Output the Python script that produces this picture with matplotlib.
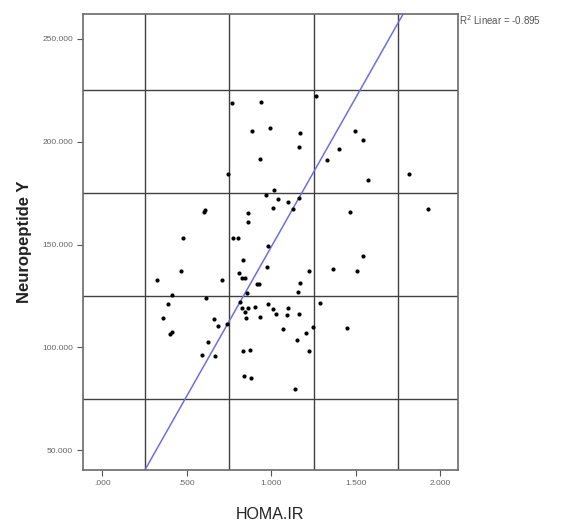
import numpy as np
import matplotlib
matplotlib.use('Agg')
import matplotlib.pyplot as plt

plt.rcParams['font.family'] = ['Liberation Sans', 'DejaVu Sans']

# HOMA.IR vs Neuropeptide Y
homa_ir = [0.765, 0.938, 0.885, 0.992, 0.933, 0.743, 0.968, 1.018, 1.037, 1.098,
           1.011, 0.609, 0.603, 0.864, 0.860, 0.477, 0.774, 0.802, 1.264, 1.169,
           1.165, 1.497, 1.541, 1.402, 1.329, 1.816, 1.572, 1.163, 1.130, 1.465,
           1.929, 0.982, 0.830, 0.467, 0.326, 0.706, 0.810, 0.824, 0.844, 0.974,
           0.913, 0.928, 0.854, 0.414, 0.611, 0.814, 0.388, 0.824, 0.860, 0.903,
           0.844, 0.982, 1.007, 1.027, 1.091, 1.101, 0.930, 0.850, 0.356, 0.660,
           0.682, 0.737, 1.070, 0.411, 0.403, 0.626, 0.590, 0.668, 0.832, 0.873,
           0.838, 0.877, 1.541, 1.366, 1.505, 1.224, 1.169, 1.157, 1.285, 1.165,
           1.246, 1.445, 1.205, 1.150, 1.224, 1.141]
npy = [218.6, 219.4, 205.3, 206.9, 191.8, 184.3, 174.3, 176.3, 172.1, 170.7,
       167.6, 166.8, 166.0, 165.5, 160.9, 153.3, 153.0, 153.3, 222.2, 204.2,
       197.2, 205.4, 200.9, 196.3, 191.3, 184.1, 181.3, 172.6, 167.5, 165.7,
       167.4, 149.1, 142.5, 137.0, 132.8, 132.6, 136.3, 133.6, 133.6, 139.2,
       130.8, 130.7, 126.3, 125.6, 124.0, 122.2, 121.0, 119.0, 119.0, 119.8,
       117.1, 121.0, 118.9, 116.1, 115.9, 119.3, 114.7, 114.2, 114.3, 113.7,
       110.4, 111.5, 109.0, 107.3, 106.5, 102.6, 96.2, 96.0, 98.4, 98.8,
       86.1, 85.0, 144.4, 138.3, 137.1, 137.0, 131.5, 126.8, 121.5, 116.4,
       110.1, 109.5, 107.0, 103.6, 98.3, 79.8]

# fit line as drawn in the chart
fit_slope = 145.0
fit_intercept = 4.0
r2_text = 'R$^2$ Linear = -0.895'

x_ticks = [0.0, 0.5, 1.0, 1.5, 2.0]
x_ticklabels = ['.000', '.500', '1.000', '1.500', '2.000']
x_grid = [0.25, 0.75, 1.25, 1.75]
y_ticks = [50, 100, 150, 200, 250]
y_ticklabels = ['50.000', '100.000', '150.000', '200.000', '250.000']
y_grid = [75, 125, 175, 225]

fig = plt.figure(figsize=(5.82, 5.25), dpi=100)
ax = fig.add_axes([0.142, 0.105, 0.645, 0.868])

ax.set_xlim(-0.117, 2.105)
ax.set_ylim(40.5, 262)

ax.set_xticks(x_ticks)
ax.set_xticklabels(x_ticklabels)
ax.set_yticks(y_ticks)
ax.set_yticklabels(y_ticklabels)
ax.set_xticks(x_grid, minor=True)
ax.set_yticks(y_grid, minor=True)
ax.grid(which='minor', color='#404040', linewidth=1.0)
ax.grid(which='major', visible=False)
ax.tick_params(which='minor', length=0)
ax.tick_params(which='major', length=4, width=0.8, color='#555555',
               labelsize=6, labelcolor='#666666', pad=3)

for s in ax.spines.values():
    s.set_color('#6a6a6a')
    s.set_linewidth(1.2)

ax.scatter(homa_ir, npy, s=9, color='black', zorder=3, linewidths=0)
ax.axline((0, fit_intercept), slope=fit_slope, color='#6f6fe0', linewidth=1.1, zorder=2)

ax.set_xlabel('HOMA.IR', fontsize=11.5, color='#222222', labelpad=15)
ax.set_ylabel('Neuropeptide Y', fontsize=12, fontweight='bold', color='#222222', labelpad=7)

fig.text(0.789, 0.962, r2_text, fontsize=7, color='#555555', va='center', ha='left')

fig.savefig('out.png', dpi=100)
